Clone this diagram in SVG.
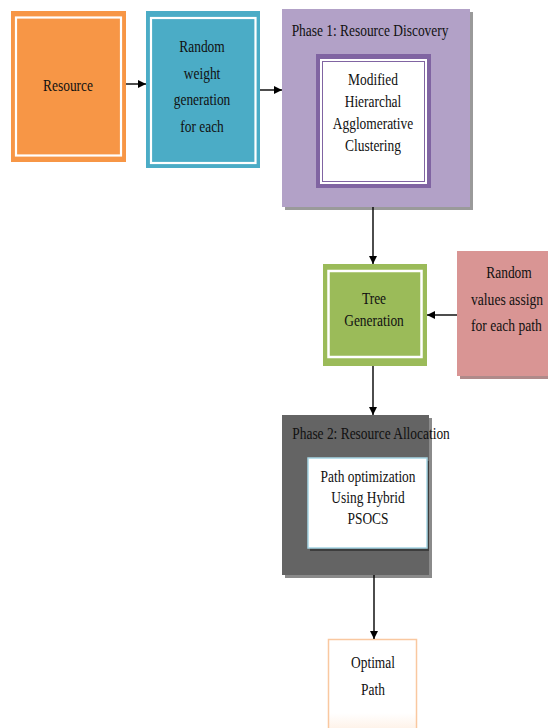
<svg xmlns="http://www.w3.org/2000/svg" width="548" height="728" viewBox="0 0 548 728">
<style>
.t{font-family:'Liberation Serif','DejaVu Serif',serif;font-size:17px;fill:#111;text-anchor:middle;transform-box:fill-box;transform-origin:center;transform:scaleX(0.79)}
.tl{font-family:'Liberation Serif','DejaVu Serif',serif;font-size:17px;fill:#111;text-anchor:start;transform-box:fill-box;transform-origin:left center;transform:scaleX(0.8)}
.c{stroke:#000;stroke-width:1.4;fill:none;marker-end:url(#ah)}
</style>
<defs>
<marker id="ah" viewBox="0 0 8 8" refX="8" refY="4" markerWidth="8" markerHeight="8" markerUnits="userSpaceOnUse" orient="auto">
<path d="M0,0 L8,4 L0,8 Z" fill="#000"/>
</marker>
<linearGradient id="og" x1="0" y1="0" x2="0" y2="1">
<stop offset="0.8" stop-color="#fff"/>
<stop offset="1" stop-color="#FEF0E4"/>
</linearGradient>
</defs>

<g id="resource">
<rect x="11" y="11" width="115" height="151" fill="#F79646"/>
<rect x="16" y="17.5" width="105" height="138" fill="none" stroke="#fff" stroke-width="2.2"/>
<text class="t" x="68" y="91">Resource</text>
</g>

<g id="random-weight">
<rect x="146" y="11" width="114" height="157" fill="#4BACC6"/>
<rect x="151" y="18" width="104.5" height="145" fill="none" stroke="#fff" stroke-width="2.2"/>
<text class="t" x="202" y="52">Random</text>
<text class="t" x="202" y="79">weight</text>
<text class="t" x="202" y="105">generation</text>
<text class="t" x="202" y="132">for each</text>
</g>

<g id="phase1">
<rect x="285" y="12" width="188" height="198" fill="#9a9a9a"/>
<rect x="282" y="9" width="188" height="198" fill="#B2A1C7"/>
<text class="t" x="370" y="36">Phase 1: Resource Discovery</text>
<rect x="316" y="54" width="115" height="134" fill="#8064A2"/>
<rect x="320" y="59" width="107" height="125" fill="#fff"/>
<rect x="322.5" y="61.5" width="102" height="120" fill="none" stroke="#8064A2" stroke-width="1"/>
<text class="t" x="373" y="85">Modified</text>
<text class="t" x="373" y="107">Hierarchal</text>
<text class="t" x="373" y="129">Agglomerative</text>
<text class="t" x="373" y="151">Clustering</text>
</g>

<g id="tree">
<rect x="323" y="264" width="104" height="102" fill="#9BBB59"/>
<rect x="328.5" y="271" width="93" height="86" fill="none" stroke="#fff" stroke-width="2.5"/>
<text class="t" x="374" y="304">Tree</text>
<text class="t" x="374" y="326">Generation</text>
</g>

<g id="random-values">
<rect x="460" y="254" width="100" height="125" fill="#b08a8a"/>
<rect x="457" y="251" width="100" height="125" fill="#D99594"/>
<text class="t" x="509" y="278">Random</text>
<text class="tl" x="471" y="305">values assign</text>
<text class="tl" x="471" y="331">for each path</text>
</g>

<g id="phase2">
<rect x="285" y="418" width="147" height="160" fill="#8a8a8a"/>
<rect x="282" y="415" width="147" height="160" fill="#646464"/>
<text class="t" x="371" y="439">Phase 2: Resource Allocation</text>
<rect x="310" y="461" width="119" height="90" fill="#3d3d3d"/>
<rect x="308" y="458" width="119" height="90" fill="#fff" stroke="#A5D5E3" stroke-width="1.5"/>
<text class="t" x="368" y="482">Path optimization</text>
<text class="t" x="368" y="503">Using Hybrid</text>
<text class="t" x="368" y="524">PSOCS</text>
</g>

<g id="optimal">
<rect x="328.5" y="639.5" width="88" height="92" fill="url(#og)" stroke="#F9C8A0" stroke-width="1.5"/>
<text class="t" x="373" y="668">Optimal</text>
<text class="t" x="373" y="695">Path</text>
</g>

<g id="connectors">
<line class="c" x1="126" y1="84" x2="146" y2="84"/>
<line class="c" x1="260" y1="90" x2="282" y2="90"/>
<line class="c" x1="373" y1="207" x2="373" y2="264"/>
<line class="c" x1="457" y1="315" x2="427" y2="315"/>
<line class="c" x1="373" y1="366" x2="373" y2="415"/>
<line class="c" x1="374" y1="575" x2="374" y2="639"/>
</g>
</svg>
